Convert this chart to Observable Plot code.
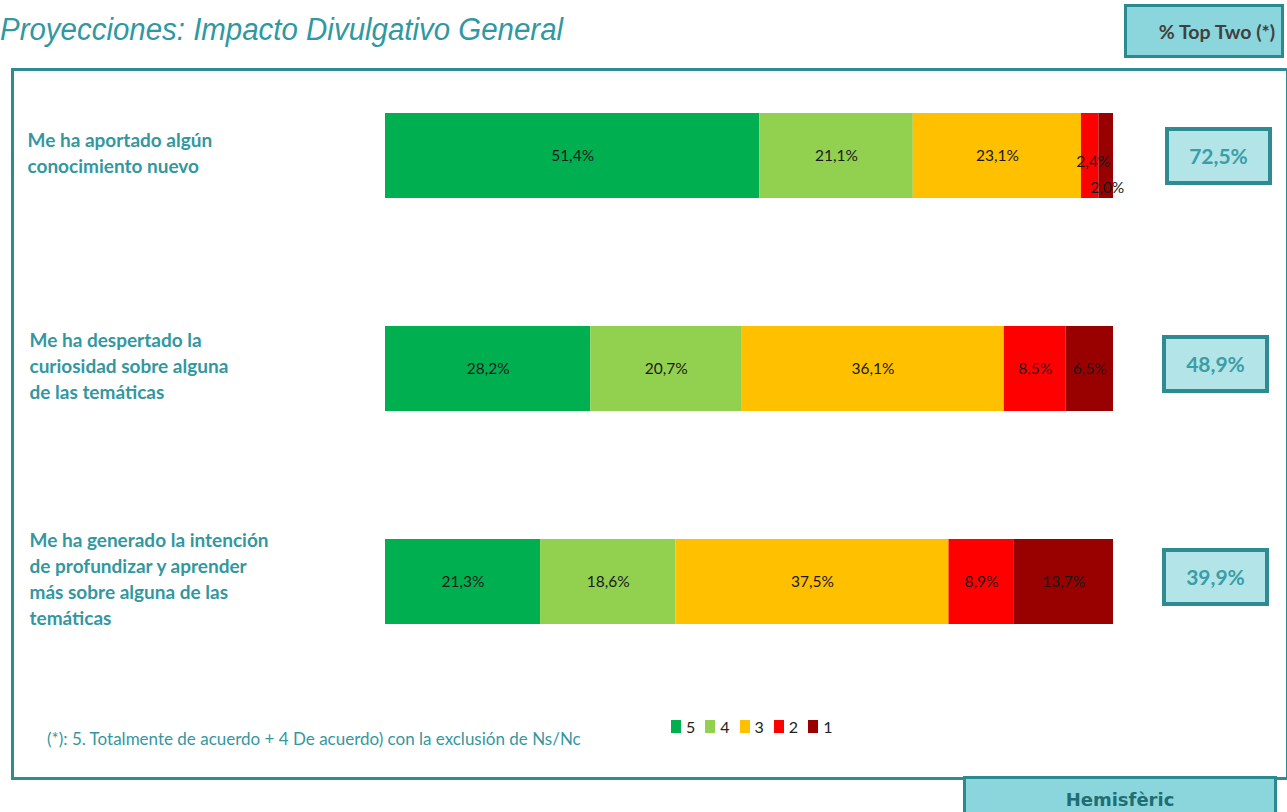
<!DOCTYPE html>
<html>
<head>
<meta charset="utf-8">
<script src="https://cdn.jsdelivr.net/npm/d3@7"></script>
<script src="https://cdn.jsdelivr.net/npm/@observablehq/plot@0.6"></script>
<style>
  html, body { margin: 0; padding: 0; background: #fff; }
  #wrap { position: relative; width: 1287px; height: 812px; overflow: hidden; font-family: Lato, "Open Sans", sans-serif; }
  #wrap svg { position: absolute; left: 0; top: 0; }
  .title { position: absolute; left: 0; top: 12px; font-family: "Liberation Sans", Arial, sans-serif; font-style: italic; font-size: 31px; color: #2f98a3; white-space: nowrap; transform-origin: left top; transform: scaleX(0.95); }
  .frame { position: absolute; left: 11px; top: 68px; width: 1272px; height: 706px; border: 3px solid #2e8b91; box-sizing: content-box; }
  .hdr { position: absolute; left: 1124px; top: 4px; width: 154px; height: 48px; background: #8ad6dc; border: 3px solid #2a8a8f; display: flex; align-items: center; justify-content: center; padding-left: 26px; box-sizing: content-box; width: 128px; font-family: Lato, sans-serif; font-weight: 700; font-size: 19.5px; color: #404040; white-space: nowrap; }
  .top2 { position: absolute; width: 99px; height: 50px; background: #b3e4e8; border: 4px solid #2e8b91; display: flex; align-items: center; justify-content: center; font-family: Lato, sans-serif; font-weight: 700; font-size: 21px; color: #3a9ea6; }
  .note { position: absolute; left: 47px; top: 728px; font-family: Lato, sans-serif; font-size: 17px; color: #3597a0; white-space: nowrap; }
  .legend { position: absolute; left: 671px; top: 717px; display: flex; gap: 0; font-family: Lato, sans-serif; font-size: 16px; color: #222; }
  .legend span.item { display: inline-flex; align-items: center; margin-right: 10px; }
  .legend span.sw { display: inline-block; width: 10px; height: 13px; margin-right: 5px; }
  .foot { position: absolute; left: 963px; top: 776px; width: 314px; height: 50px; background: #8ad6dc; border: 3px solid #2a8a8f; display: flex; justify-content: center; font-family: "DejaVu Sans", sans-serif; font-weight: 700; font-size: 18px; color: #1f6e73; padding-top: 10px; box-sizing: border-box; }
</style>
</head>
<body>
<div id="wrap"></div>
<script>
// ---- data ----
const categories = [
  "Me ha aportado algún\nconocimiento nuevo",
  "Me ha despertado la\ncuriosidad sobre alguna\nde las temáticas",
  "Me ha generado la intención\nde profundizar y aprender\nmás sobre alguna de las\ntemáticas"
];
const levels = ["5", "4", "3", "2", "1"];
const levelColors = ["#00b050", "#92d050", "#ffc000", "#ff0000", "#990000"];
const values5 = [51.4, 28.2, 21.3];
const values4 = [21.1, 20.7, 18.6];
const values3 = [23.1, 36.1, 37.5];
const values2 = [2.4, 8.5, 8.9];
const values1 = [2.0, 6.5, 13.7];
const titleText = "Proyecciones: Impacto Divulgativo General";
const headerText = "% Top Two (*)";
const noteText = "(*): 5. Totalmente de acuerdo + 4 De acuerdo) con la exclusión de Ns/Nc";
const footText = "Hemisfèric";

const series = [values5, values4, values3, values2, values1];
const data = [];
categories.forEach((c, i) => levels.forEach((l, j) => data.push({cat: c, level: l, value: series[j][i]})));
const fmt = v => v.toFixed(1).replace(".", ",") + "%";
const topTwo = categories.map((c, i) => values5[i] + values4[i]);

const isSmall = d => d.value < 3;

const plot = Plot.plot({
  width: 1287,
  height: 812,
  marginLeft: 385,
  marginRight: 174,
  marginTop: 49,
  marginBottom: 124,
  x: {domain: [0, 100], axis: null},
  y: {domain: categories, paddingInner: 0.6, paddingOuter: 0.3, axis: null},
  color: {domain: levels, range: levelColors},
  style: {fontFamily: "Lato, 'Open Sans', sans-serif", background: "transparent"},
  marks: [
    Plot.barX(data, Plot.stackX({x: "value", y: "cat", fill: "level"})),
    Plot.text(data, Plot.stackX({x: "value", y: "cat", z: "level", text: d => isSmall(d) ? null : fmt(d.value), fill: "#1a1a1a", fontSize: 15.5})),
    Plot.text(data, Plot.stackX({x: "value", y: "cat", z: "level", text: d => (isSmall(d) && d.level === "2") ? fmt(d.value) : null, fill: "#1a1a1a", fontSize: 15.5, dx: 3, dy: 6})),
    Plot.text(data, Plot.stackX({x: "value", y: "cat", z: "level", text: d => (isSmall(d) && d.level === "1") ? fmt(d.value) : null, fill: "#1a1a1a", fontSize: 15.5, dx: 1, dy: 32})),
    Plot.text(categories.slice(0, 1), {y: d => d, text: d => d, frameAnchor: "left", textAnchor: "start", dx: -358, dy: -4, fill: "#3397a0", fontWeight: 700, fontSize: 19, lineHeight: 1.37}),
    Plot.text(categories.slice(1), {y: d => d, text: d => d, frameAnchor: "left", textAnchor: "start", dx: -356, dy: -4, fill: "#3397a0", fontWeight: 700, fontSize: 19, lineHeight: 1.37})
  ]
});

const wrap = document.getElementById("wrap");
wrap.appendChild(plot);

const add = (cls, text, style) => {
  const el = document.createElement("div");
  el.className = cls;
  if (text != null) el.textContent = text;
  if (style) Object.assign(el.style, style);
  wrap.appendChild(el);
  return el;
};
add("frame");
add("title", titleText);
add("hdr", headerText);
add("note", noteText);
add("foot", footText);

const y = plot.scale("y");
const bw = y.bandwidth;
categories.forEach((c, i) => {
  const cy = y.apply(c) + bw / 2;
  add("top2", fmt(topTwo[i]), {left: (i === 0 ? 1165 : 1162) + "px", top: (cy - 29 - (i === 0 ? 0 : 5)) + "px"});
});

const leg = add("legend");
levels.forEach((l, j) => {
  const it = document.createElement("span");
  it.className = "item";
  const sw = document.createElement("span");
  sw.className = "sw";
  sw.style.background = levelColors[j];
  it.appendChild(sw);
  it.appendChild(document.createTextNode(l));
  leg.appendChild(it);
});
</script>
</body>
</html>
